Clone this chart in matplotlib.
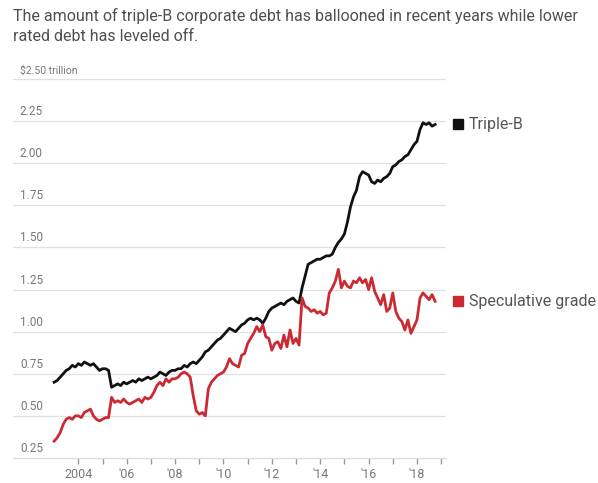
import numpy as np
import matplotlib
matplotlib.use("Agg")
import matplotlib.pyplot as plt
from matplotlib.transforms import blended_transform_factory

plt.rcParams['font.family'] = ['Roboto', 'DejaVu Sans']

title = ("The amount of triple-B corporate debt has ballooned in recent years while lower\n"
         "rated debt has leveled off.")
unit_label = "$2.50 trillion"
series_names = ["Triple-B", "Speculative grade"]
series_colors = ["#111111", "#cc2a33"]

# sample dates: 8 per year from 2003.0
start_year = 2003
per_year = 8

triple_b = [
    0.70, 0.71, 0.73, 0.75, 0.77, 0.78, 0.80, 0.79,   # 2003
    0.81, 0.80, 0.82, 0.81, 0.80, 0.81, 0.79, 0.77,   # 2004
    0.78, 0.78, 0.77, 0.67, 0.68, 0.69, 0.68, 0.70,   # 2005
    0.69, 0.70, 0.71, 0.70, 0.72, 0.71, 0.72, 0.73,   # 2006
    0.72, 0.73, 0.74, 0.76, 0.75, 0.74, 0.76, 0.77,   # 2007
    0.77, 0.78, 0.78, 0.80, 0.79, 0.81, 0.82, 0.81,   # 2008
    0.83, 0.85, 0.88, 0.89, 0.91, 0.93, 0.95, 0.96,   # 2009
    0.98, 1.00, 1.02, 1.01, 1.00, 1.02, 1.04, 1.05,   # 2010
    1.07, 1.08, 1.07, 1.08, 1.07, 1.05, 1.08, 1.12,   # 2011
    1.14, 1.15, 1.16, 1.17, 1.16, 1.18, 1.19, 1.20,   # 2012
    1.18, 1.17, 1.26, 1.33, 1.40, 1.41, 1.42, 1.43,   # 2013
    1.43, 1.44, 1.45, 1.45, 1.46, 1.50, 1.53, 1.55,   # 2014
    1.58, 1.65, 1.74, 1.80, 1.84, 1.92, 1.95, 1.94,   # 2015
    1.93, 1.89, 1.88, 1.90, 1.89, 1.91, 1.92, 1.94,   # 2016
    1.98, 1.99, 2.01, 2.02, 2.04, 2.05, 2.08, 2.11,   # 2017
    2.13, 2.20, 2.24, 2.23, 2.24, 2.22, 2.23,         # 2018
]

speculative = [
    0.35, 0.37, 0.40, 0.45, 0.48, 0.49, 0.48, 0.50,   # 2003
    0.50, 0.49, 0.52, 0.53, 0.54, 0.50, 0.48, 0.47,   # 2004
    0.48, 0.49, 0.49, 0.61, 0.58, 0.59, 0.58, 0.60,   # 2005
    0.58, 0.57, 0.58, 0.59, 0.60, 0.58, 0.61, 0.60,   # 2006
    0.61, 0.64, 0.68, 0.70, 0.68, 0.72, 0.70, 0.72,   # 2007
    0.72, 0.73, 0.75, 0.76, 0.75, 0.73, 0.62, 0.53,   # 2008
    0.51, 0.52, 0.50, 0.66, 0.70, 0.72, 0.74, 0.75,   # 2009
    0.76, 0.79, 0.84, 0.81, 0.80, 0.79, 0.86, 0.87,   # 2010
    0.93, 0.96, 0.99, 1.03, 1.00, 1.04, 0.97, 0.96,   # 2011
    0.89, 0.93, 0.94, 0.90, 0.98, 0.91, 1.01, 0.93,   # 2012
    0.96, 0.92, 1.20, 1.15, 1.14, 1.12, 1.13, 1.11,   # 2013
    1.12, 1.10, 1.11, 1.23, 1.26, 1.30, 1.37, 1.26,   # 2014
    1.30, 1.27, 1.26, 1.30, 1.29, 1.32, 1.29, 1.31,   # 2015
    1.25, 1.32, 1.24, 1.20, 1.16, 1.22, 1.12, 1.14,   # 2016
    1.23, 1.12, 1.08, 1.06, 1.01, 1.07, 0.99, 1.03,   # 2017
    1.07, 1.20, 1.23, 1.21, 1.19, 1.22, 1.18,         # 2018
]

y_ticks = [0.25, 0.50, 0.75, 1.00, 1.25, 1.50, 1.75, 2.00, 2.25, 2.50]
y_tick_labels = ["0.25", "0.50", "0.75", "1.00", "1.25", "1.50", "1.75", "2.00", "2.25", unit_label]
x_ticks = list(range(2004, 2020))
x_tick_labels = ["2004", "", "'06", "", "'08", "", "'10", "", "'12", "", "'14", "", "'16", "", "'18", ""]

dates = start_year + np.arange(len(triple_b)) / per_year

fig = plt.figure(figsize=(5.98, 4.83), dpi=100)
ax = fig.add_axes([13/598, 25/483, 433/598, 379/483])
ax.set_xlim(2001.3, 2019.2)
ax.set_ylim(0.25, 2.50)

grid_color = "#e0e0e0"
for v in y_ticks[1:]:
    ax.axhline(v, color=grid_color, lw=0.9, zorder=0)

for s in ax.spines.values():
    s.set_visible(False)
ax.spines['bottom'].set_visible(True)
ax.spines['bottom'].set_color("#dddddd")
ax.spines['bottom'].set_linewidth(0.9)

ax.set_yticks([])
ax.set_xticks(x_ticks)
ax.set_xticklabels(x_tick_labels, color="#777777", fontsize=9)
ax.tick_params(axis='x', length=4, width=1.0, color="#999999", pad=3)

ytr = blended_transform_factory(ax.transAxes, ax.transData)
for v, lab in zip(y_ticks, y_tick_labels):
    ax.text(0.016, v + 0.018, lab, transform=ytr, ha='left', va='bottom',
            fontsize=8.5 if v < 2.5 else 7.5, color="#777777")

for vals, name, col in zip([triple_b, speculative], series_names, series_colors):
    ax.plot(dates[:len(vals)], vals, color=col, lw=2.0, solid_joinstyle='round', zorder=3)
    yl = vals[-1]
    ax.plot([1.028], [yl], marker='s', ms=7.5, color=col, transform=ytr, clip_on=False)
    ax.text(1.052, yl, name, transform=ytr, ha='left', va='center', fontsize=11.5,
            color="#555555", clip_on=False)

fig.text(13/598, 1 - 8/483, title, ha='left', va='top', fontsize=11.5,
         color="#4f4f4f", linespacing=1.45)

fig.savefig("out.png", dpi=100, facecolor="white")
